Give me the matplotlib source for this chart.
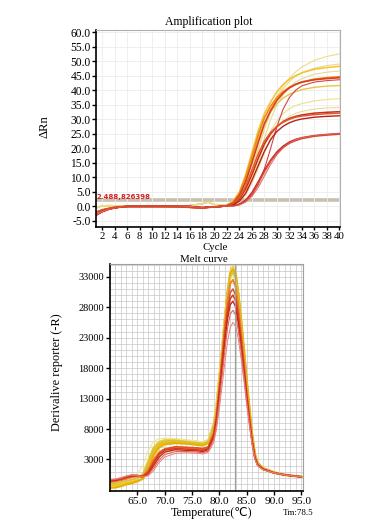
import matplotlib
matplotlib.use('Agg')
import matplotlib.pyplot as plt
import numpy as np

plt.rcParams['font.family'] = ['Liberation Serif', 'DejaVu Sans']
plt.rcParams['font.size'] = 8

# --- amplification data ---
base_cycles = [1, 2, 3, 4, 5, 6, 8, 10, 12, 14, 16, 17, 18, 19, 20, 21, 22]
base_red = [-3.0, -1.8, -1.0, -0.5, -0.2, 0.0, 0.0, 0.0, 0.0, 0.0, 0.0, -0.2, -0.4, -0.3, -0.2, 0.0, 0.2]
base_orange = [-2.0, -1.2, -0.7, -0.3, -0.1, 0.0, 0.0, 0.0, 0.0, -0.1, -0.3, -0.5, -0.6, -0.3, -0.2, 0.0, 0.3]
base_yellow = [-0.5, 0.2, 0.3, 0.2, 0.1, 0.1, 0.1, 0.1, 0.1, 0.1, 0.3, 0.6, 0.9, 1.5, 0.6, 0.4, 0.6]

rise_cycles = [23, 24, 25, 26, 27, 28, 29, 30, 31, 32, 33, 34, 36, 38, 40]
amp_curves = [
    # (baseline, color, width, values)
    ('yellow', '#ecdc8a', 0.8, [1.0, 3.0, 7.0, 13.0, 20.0, 27.0, 33.0, 38.0, 41.5, 44.2, 46.3, 48.0, 50.3, 51.6, 52.5]),
    ('yellow', '#eed88a', 0.8, [0.8, 2.6, 6.5, 12.5, 19.5, 26.5, 32.5, 37.0, 40.5, 43.0, 44.8, 46.0, 47.6, 48.5, 49.0]),
    ('yellow', '#e4dc96', 0.8, [0.6, 2.0, 5.0, 10.0, 16.5, 23.5, 30.0, 35.0, 38.5, 41.0, 42.8, 44.0, 45.5, 46.2, 46.6]),
    ('yellow', '#f2c230', 1.1, [1.8, 5.0, 11.0, 18.5, 26.0, 32.0, 36.0, 39.5, 42.0, 43.8, 45.0, 46.0, 47.2, 47.8, 48.2]),
    ('yellow', '#e8c83c', 1.0, [1.3, 4.0, 9.0, 16.0, 23.0, 28.5, 32.5, 35.3, 37.3, 38.6, 39.5, 40.2, 41.0, 41.4, 41.6]),
    ('yellow', '#ede08a', 0.8, [0.6, 2.0, 5.0, 9.5, 15.0, 21.0, 26.0, 29.5, 32.0, 33.6, 34.7, 35.4, 36.3, 36.8, 37.1]),
    ('yellow', '#eadc9a', 0.8, [0.5, 1.6, 4.0, 8.0, 13.0, 18.5, 23.5, 27.0, 29.5, 31.0, 32.0, 32.7, 33.5, 33.9, 34.1]),
    ('orange', '#f08a1e', 1.3, [1.5, 4.5, 10.0, 17.0, 24.5, 30.5, 34.5, 37.5, 39.5, 41.0, 42.0, 42.8, 43.8, 44.3, 44.6]),
    ('red', '#d9401a', 1.2, [1.2, 3.8, 8.5, 15.0, 22.0, 28.5, 33.0, 36.5, 39.0, 40.8, 42.0, 42.8, 43.6, 44.0, 44.3]),
    ('red', '#d04848', 0.8, [0.3, 0.8, 2.0, 4.0, 7.5, 13.0, 20.0, 27.5, 33.5, 37.5, 40.0, 41.5, 42.8, 43.3, 43.6]),
    ('red', '#cc2a1a', 1.1, [0.8, 2.5, 6.0, 11.0, 16.5, 21.5, 25.0, 27.5, 29.2, 30.3, 31.0, 31.5, 32.1, 32.4, 32.6]),
    ('orange', '#e05a28', 1.1, [1.0, 3.0, 7.0, 12.5, 18.0, 22.5, 25.5, 27.6, 29.0, 30.0, 30.7, 31.1, 31.6, 31.9, 32.1]),
    ('red', '#b52020', 1.0, [0.5, 1.8, 4.5, 9.0, 14.0, 19.0, 23.0, 25.8, 27.6, 28.8, 29.6, 30.1, 30.7, 31.0, 31.2]),
    ('red', '#c82828', 1.0, [0.2, 0.8, 2.2, 4.8, 8.5, 12.5, 16.0, 18.8, 20.8, 22.2, 23.1, 23.7, 24.4, 24.8, 25.1]),
    ('red', '#e07070', 0.8, [0.1, 0.5, 1.5, 3.5, 6.5, 10.5, 14.5, 17.8, 20.2, 21.8, 22.9, 23.6, 24.3, 24.7, 25.0]),
    ('orange', '#d84a30', 0.9, [0.2, 0.7, 1.9, 4.2, 7.8, 11.8, 15.5, 18.3, 20.3, 21.7, 22.6, 23.3, 24.1, 24.5, 24.8]),
]
threshold = 2.2
threshold_label = '2.488,826398'

# --- melt curve data ---
temps = [60, 61, 62, 63, 64, 65, 66, 67, 68, 69, 70, 72, 74, 76, 77, 78,
         79, 79.5, 80, 80.5, 81, 81.5, 82, 82.5, 83, 83.5, 84, 84.5, 85, 85.5, 86, 86.5, 87, 88, 90, 92, 95]
melt_curves = [
    ('#f0d040', 1.6, [-1500, -1400, -1200, -1000, -800, -600, 300, 2800, 5000, 5900, 6200, 6300, 6100, 5900, 5800, 6200,
                      9000, 12000, 16500, 21000, 26000, 30500, 33800, 34700, 33500, 30000, 25500, 20500, 15500, 11000, 6800, 3600, 2300, 1500, 800, 450, 150]),
    ('#e8c020', 1.6, [-1200, -1100, -900, -700, -500, -300, 200, 2000, 4300, 5400, 5800, 5900, 5700, 5500, 5400, 5800,
                      8500, 11500, 16000, 20500, 25500, 30000, 33200, 34000, 33000, 29800, 25500, 20800, 15800, 11300, 7000, 3800, 2400, 1500, 850, 480, 150]),
    ('#ece070', 1.0, [-800, -900, -800, -600, -400, -200, 0, 1200, 3500, 4900, 5400, 5600, 5500, 5300, 5200, 5600,
                      8000, 11000, 15500, 20000, 25000, 29500, 32700, 33500, 32400, 29000, 24800, 20000, 15200, 10800, 6800, 3700, 2400, 1500, 850, 480, 150]),
    ('#e8b000', 1.5, [-1700, -1600, -1400, -1100, -900, -600, -200, 1500, 3800, 5000, 5500, 5700, 5600, 5400, 5300, 5700,
                      8800, 11800, 16300, 21000, 26000, 30300, 33500, 34200, 33300, 30200, 26000, 21300, 16300, 11700, 7300, 4000, 2500, 1600, 900, 500, 150]),
    ('#ece8a0', 0.8, [-300, -200, 0, 200, 400, 600, 2000, 4500, 6000, 6400, 6500, 6400, 6200, 6000, 5900, 6300,
                      9500, 12800, 17200, 21800, 26500, 30200, 32600, 33000, 31600, 28200, 23800, 19000, 14200, 10000, 6200, 3400, 2200, 1400, 800, 450, 150]),
    ('#d8c040', 1.2, [-1000, -900, -700, -500, -300, -100, 600, 2500, 4800, 5700, 6000, 6100, 5900, 5700, 5600, 6000,
                      8800, 11800, 16200, 20800, 25700, 30000, 33000, 33800, 32800, 29600, 25300, 20500, 15600, 11200, 7000, 3800, 2400, 1500, 850, 480, 150]),
    ('#f08020', 1.3, [-700, -600, -400, -200, 100, 200, 300, 1300, 3000, 4200, 4700, 5000, 4900, 4800, 4700, 5000,
                      7500, 10500, 15000, 19800, 24800, 29000, 31900, 32500, 31300, 28000, 23800, 19200, 14500, 10300, 6400, 3500, 2200, 1400, 800, 450, 150]),
    ('#e05030', 1.1, [-600, -500, -300, 0, 200, 300, 200, 1000, 2700, 4000, 4700, 5100, 5000, 4900, 4800, 5100,
                      7300, 10200, 14500, 19000, 23800, 27800, 30400, 31000, 29900, 26800, 22800, 18400, 13900, 9800, 6100, 3400, 2200, 1400, 800, 450, 150]),
    ('#d83a20', 1.1, [-400, -300, -100, 200, 400, 400, 200, 800, 2400, 3800, 4500, 4800, 4700, 4600, 4500, 4800,
                      7000, 9800, 14000, 18500, 23000, 26900, 29400, 30000, 29000, 26000, 22200, 17900, 13500, 9600, 6000, 3300, 2100, 1400, 800, 450, 150]),
    ('#c82818', 1.0, [-500, -400, -200, 100, 300, 300, 100, 600, 2000, 3400, 4200, 4600, 4500, 4400, 4300, 4600,
                      6700, 9400, 13500, 17800, 22200, 26000, 28400, 29000, 28000, 25200, 21500, 17400, 13100, 9300, 5800, 3200, 2100, 1400, 800, 450, 150]),
    ('#e06a50', 0.8, [-400, -300, -100, 200, 400, 300, 100, 500, 1600, 2900, 3800, 4300, 4300, 4200, 4100, 4400,
                      6300, 8800, 12500, 16600, 20800, 24500, 26900, 27500, 26700, 24100, 20600, 16700, 12600, 9000, 5600, 3100, 2000, 1300, 800, 450, 150]),
    ('#e88080', 0.7, [-300, -200, 0, 300, 500, 400, 100, 300, 1200, 2500, 3400, 4000, 4100, 4000, 3900, 4200,
                      5800, 8000, 11300, 15000, 18800, 22300, 24700, 25500, 24900, 22700, 19500, 15900, 12000, 8600, 5400, 3000, 2000, 1300, 800, 450, 150]),
]
tm_line = 82.8

bases = {'red': base_red, 'orange': base_orange, 'yellow': base_yellow}

fig = plt.figure(figsize=(3.74, 5.22), dpi=100)

# --- Plot 1: Amplification ---
ax1 = fig.add_axes([0.258, 0.565, 0.651, 0.378])
ax1.axhline(threshold, color='#c8c0b2', lw=2.6, zorder=1)
for base, color, lw, rise in amp_curves:
    ax1.plot(base_cycles + rise_cycles, bases[base] + rise, color=color, lw=lw, zorder=2)
ax1.text(1.15, threshold + 0.3, threshold_label, color='#d42020', fontsize=5,
         fontweight='bold', family='DejaVu Sans', zorder=3)
ax1.set_xlim(1.1, 40.1)
ax1.set_ylim(-7.1, 60.8)
ax1.set_xticks(range(2, 41, 2))
ax1.set_yticks(np.arange(-5, 61, 5))
ax1.set_yticklabels(['%.1f' % v for v in np.arange(-5, 61, 5)])
ax1.grid(True, color='#ececec', lw=0.6)
ax1.tick_params(direction='out', length=3, width=1, pad=1.2, labelsize=8.3)
ax1.tick_params(axis='x', length=2.5, pad=1, labelsize=7.8)
for s in ['top', 'right']:
    ax1.spines[s].set_color('#b0b0b0')
    ax1.spines[s].set_linewidth(0.8)
for s in ['left', 'bottom']:
    ax1.spines[s].set_linewidth(1.2)
fig.text(0.559, 0.958, 'Amplification plot', ha='center', va='center', fontsize=8.5)
fig.text(0.12, 0.757, 'ΔRn', rotation=90, ha='center', va='center', fontsize=9)
fig.text(0.575, 1 - 243 / 522, 'Cycle', ha='center', va='top', fontsize=7.8)
fig.text(0.545, 1 - 255.5 / 522, 'Melt curve', ha='center', va='top', fontsize=7.8)

# --- Plot 2: Melt curve ---
ax2 = fig.add_axes([0.294, 0.0603, 0.516, 0.434])
for color, lw, vals in melt_curves:
    ax2.plot(temps, vals, color=color, lw=lw)
ax2.axvline(tm_line, color='#a0a0a0', lw=0.9)
ax2.set_xlim(60, 95.3)
ax2.set_ylim(-2100, 35100)
ax2.set_xticks(np.arange(65, 96, 5))
ax2.set_xticklabels(['%.1f' % v for v in np.arange(65, 96, 5)])
ax2.set_yticks(np.arange(3000, 33001, 5000))
ax2.set_xticks(np.arange(60, 96, 1), minor=True)
ax2.set_yticks(np.arange(-2000, 35101, 1000), minor=True)
ax2.grid(True, which='both', color='#c8c8c8', lw=0.5)
ax2.tick_params(which='minor', length=0)
ax2.tick_params(which='major', direction='out', length=3, width=1, pad=1.5)
ax2.tick_params(axis='x', labelsize=8.2)
ax2.tick_params(axis='y', labelsize=7.5)
for s in ['top', 'right']:
    ax2.spines[s].set_color('#a0a0a0')
    ax2.spines[s].set_linewidth(0.8)
for s in ['left', 'bottom']:
    ax2.spines[s].set_linewidth(1.2)
fig.text(0.152, 0.287, 'Derivalive reporter (-R)', rotation=90, ha='center', va='center', fontsize=8.8)
fig.text(0.566, 0.017, 'Temperature(℃)', ha='center', va='center', fontsize=8.6)
fig.text(0.757, 0.017, 'Tm:78.5', ha='left', va='center', fontsize=6.5)

plt.savefig('out.png', dpi=100)
plt.close()
